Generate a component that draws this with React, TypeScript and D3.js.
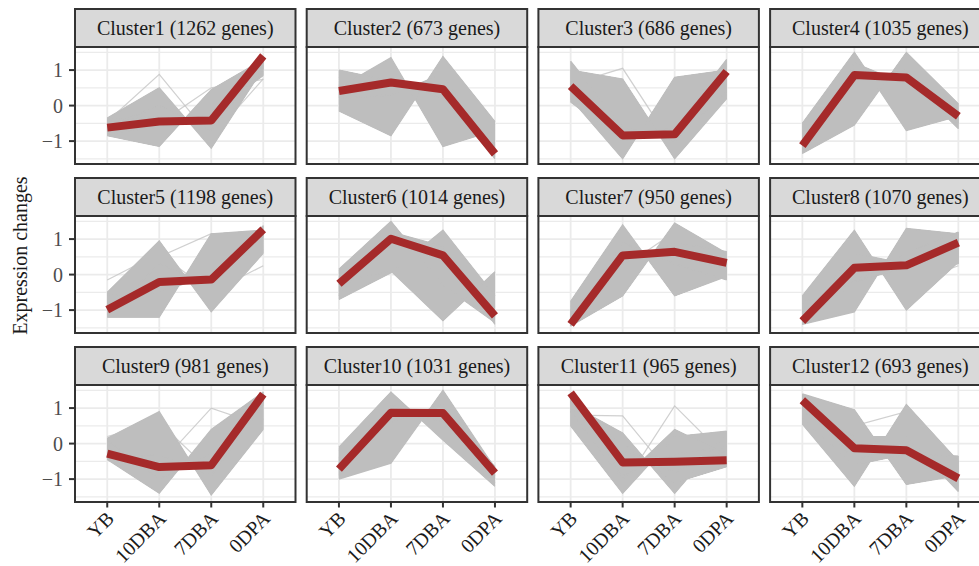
import React from "react";
import * as d3 from "d3";

const stages = ["YB", "10DBA", "7DBA", "0DPA"];
const clusterLabels = ["Cluster1", "Cluster2", "Cluster3", "Cluster4", "Cluster5", "Cluster6", "Cluster7", "Cluster8", "Cluster9", "Cluster10", "Cluster11", "Cluster12"];
const geneCounts = [1262, 673, 686, 1035, 1198, 1014, 950, 1070, 981, 1031, 965, 693];
const yTicks = [-1, 0, 1];
const yTitle = "Expression changes";

// mean profile (red line) per cluster: YB, 10DBA, 7DBA, 0DPA
const meanProfiles = [
  [-0.62, -0.45, -0.42, 1.4],
  [0.41, 0.65, 0.46, -1.36],
  [0.55, -0.84, -0.81, 0.96],
  [-1.13, 0.86, 0.79, -0.3],
  [-0.99, -0.21, -0.14, 1.27],
  [-0.26, 1.01, 0.54, -1.16],
  [-1.4, 0.54, 0.64, 0.33],
  [-1.31, 0.19, 0.26, 0.9],
  [-0.28, -0.66, -0.61, 1.39],
  [-0.72, 0.87, 0.86, -0.83],
  [1.43, -0.53, -0.51, -0.47],
  [1.22, -0.13, -0.19, -0.98],
];

// gene profiles spanning the dense grey bundle of each cluster
const coreProfiles = [
  [[-0.35, 0.5, -1.2, 1.05], [-0.85, -1.15, 0.45, 1.3], [-0.4, -0.3, -0.5, 1.25], [-0.8, -0.6, -0.25, 0.85], [-0.6, 0.0, -0.7, 1.2]],
  [[0.5, 1.35, -1.15, -0.7], [-0.15, -0.85, 1.38, -0.45], [1.0, 0.7, 0.2, -1.45], [0.2, 0.3, 0.9, -1.4], [0.6, 0.6, 0.4, -1.5]],
  [[1.0, 0.75, -1.5, 0.2], [0.2, -1.5, 0.8, 1.0], [1.25, -0.6, -1.0, 0.4], [0.1, -1.0, -0.6, 1.3], [0.6, -0.6, -0.6, 0.6]],
  [[-0.5, 1.5, -0.7, -0.3], [-1.35, -0.55, 1.5, 0.05], [-1.2, 1.0, 0.8, -0.65], [-0.8, 0.7, 1.0, -0.3], [-1.3, 1.2, 0.6, -0.5]],
  [[-0.5, 0.95, -1.05, 0.6], [-1.2, -1.2, 1.15, 1.25], [-1.0, -0.2, -0.1, 1.38], [-0.6, -0.5, 0.0, 1.1], [-1.15, 0.3, -0.3, 1.1]],
  [[0.15, 1.5, -0.3, -1.35], [-0.7, 0.05, 1.25, -0.6], [-0.3, 1.0, 0.55, -1.2], [-0.2, 0.1, -1.3, 0.08], [-0.6, 1.2, 0.8, -1.4]],
  [[-0.75, 1.4, -0.6, -0.05], [-1.45, -0.6, 1.45, 0.6], [-1.3, 0.6, 0.65, 0.1], [-1.0, 0.3, 0.9, 0.65], [-1.45, 0.9, 0.3, -0.15]],
  [[-0.6, 1.25, -1.0, 0.35], [-1.4, -1.05, 1.3, 1.15], [-1.3, 0.2, 0.25, 0.85], [-1.2, 0.6, 0.3, 0.3], [-1.4, -0.2, 0.6, 1.2], [-0.8, -0.2, 0.2, 0.8]],
  [[0.15, 0.9, -1.45, 0.4], [-0.45, -1.4, 0.4, 1.45], [-0.2, -0.6, -0.6, 1.4], [-0.45, -0.3, -0.9, 1.1], [0.1, -1.0, -0.3, 1.2]],
  [[-0.1, 1.45, 0.1, -1.2], [-1.0, -0.55, 1.5, -0.7], [-0.7, 0.9, 0.9, -0.9], [-0.4, 1.1, 0.6, -1.1], [-0.9, 0.6, 1.1, -0.65]],
  [[1.1, 0.3, -1.4, 0.3], [0.5, -1.4, 0.2, 0.35], [1.4, -0.5, -0.5, -0.5], [1.3, -0.9, -0.3, -0.1], [1.2, -0.2, -0.8, -0.2], [0.9, -1.0, 0.4, -0.3], [1.0, 0.0, -1.1, -0.65]],
  [[1.4, 0.95, -1.15, -0.9], [0.55, -1.2, 1.1, -0.5], [1.2, -0.1, -0.2, -1.0], [0.9, 0.2, 0.2, -1.35], [1.3, -0.5, 0.1, -0.9], [0.7, -0.6, -0.3, -0.35]],
];

// fainter outlying gene profiles
const strayProfiles = [
  [[-0.45, 0.88, -0.9, 0.75], [-0.75, -0.5, 0.5, 0.74]],
  [[0.8, 0.1, 0.9, -0.55]],
  [[0.6, 1.05, -1.2, 0.3]],
  [[-0.6, 0.2, 1.1, -0.4]],
  [[-0.15, 0.6, -0.5, 0.25], [-0.7, 0.5, 1.15, 0.7]],
  [[0.1, 0.6, 0.3, -0.9]],
  [[-0.9, 0.2, 1.2, 0.4]],
  [[-0.9, 0.9, -0.3, 0.25]],
  [[-0.4, -0.6, 1.0, 0.5], [0.2, 0.6, -0.8, 0.7]],
  [[-0.2, 0.2, 1.0, -1.0]],
  [[0.8, 0.78, -1.0, -0.5], [0.6, -1.2, 1.06, -0.4]],
  [[1.0, 0.5, 0.9, -1.2]],
];

const W = 979;
const H = 566;
const FONT = "'Liberation Serif', 'Times New Roman', serif";

export default function App() {
  const left0 = 75;
  const colStep = 231.7;
  const panelW = 220.5;
  const top0 = 9;
  const rowStep = 169;
  const stripH = 38;
  const plotH = 117;
  const idx = [0, 1, 2, 3];

  const panels = clusterLabels.map((name, i) => {
    const col = i % 4;
    const row = Math.floor(i / 4);
    const px = left0 + col * colStep;
    const sy = top0 + row * rowStep;
    const py = sy + stripH;
    const pb = py + plotH;
    const x = d3.scalePoint<string>().domain(stages).range([px, px + panelW]).padding(0.62);
    const y = d3.scaleLinear().domain([-1.645, 1.65]).range([pb, py]);
    const line = d3
      .line<number>()
      .x((_, k) => x(stages[k]) as number)
      .y((v) => y(v));
    const core = coreProfiles[i];
    const areas: string[] = [];
    for (let a = 0; a < core.length; a++) {
      for (let b = a + 1; b < core.length; b++) {
        const ar = d3
          .area<number>()
          .x((k) => x(stages[k]) as number)
          .y0((k) => y(core[a][k]))
          .y1((k) => y(core[b][k]));
        areas.push(ar(idx) as string);
      }
    }
    const minorY = [-1.5, -0.5, 0.5, 1.5];
    return (
      <g key={name}>
        {minorY.map((v) => (
          <line key={"mn" + v} x1={px} x2={px + panelW} y1={y(v)} y2={y(v)} stroke="#EBEBEB" strokeWidth={1.4} />
        ))}
        {yTicks.map((v) => (
          <line key={"mj" + v} x1={px} x2={px + panelW} y1={y(v)} y2={y(v)} stroke="#EBEBEB" strokeWidth={1.8} />
        ))}
        {stages.map((s) => (
          <line key={"vx" + s} x1={x(s)} x2={x(s)} y1={py} y2={pb} stroke="#EBEBEB" strokeWidth={1.8} />
        ))}
        {strayProfiles[i].map((p, k) => (
          <path key={"st" + k} d={line(p) as string} fill="none" stroke="#C4C4C4" strokeOpacity={0.8} strokeWidth={1.2} />
        ))}
        {areas.map((d, k) => (
          <path key={"ar" + k} d={d} fill="#BEBEBE" stroke="none" />
        ))}
        {core.map((p, k) => (
          <path key={"cl" + k} d={line(p) as string} fill="none" stroke="#BEBEBE" strokeWidth={1.2} />
        ))}
        <path d={line(meanProfiles[i]) as string} fill="none" stroke="#A52A2A" strokeWidth={8} strokeLinejoin="round" strokeLinecap="butt" />
        <rect x={px} y={py} width={panelW} height={plotH} fill="none" stroke="#333333" strokeWidth={2} />
        <rect x={px} y={sy} width={panelW} height={stripH} fill="#D9D9D9" stroke="#333333" strokeWidth={2} />
        <text x={px + panelW / 2} y={sy + 25.5} textAnchor="middle" fontSize={20} fontFamily={FONT} fill="#1A1A1A">
          {`${name} (${geneCounts[i]} genes)`}
        </text>
        {col === 0 &&
          yTicks.map((v) => (
            <g key={"yt" + v}>
              <line x1={px - 6} x2={px} y1={y(v)} y2={y(v)} stroke="#333333" strokeWidth={2} />
              <text x={px - 12} y={y(v)} dy="0.35em" textAnchor="end" fontSize={20} fontFamily={FONT} fill="#4D4D4D">
                {v < 0 ? "\u2212" + Math.abs(v) : String(v)}
              </text>
            </g>
          ))}
        {row === 2 &&
          stages.map((s) => (
            <g key={"xt" + s}>
              <line x1={x(s)} x2={x(s)} y1={pb} y2={pb + 5.5} stroke="#333333" strokeWidth={2} />
              <text
                transform={`translate(${(x(s) as number) - 2},${pb + 8}) rotate(-45)`}
                dy="0.7em"
                textAnchor="end"
                fontSize={20}
                fontFamily={FONT}
                fill="#1A1A1A"
              >
                {s}
              </text>
            </g>
          ))}
      </g>
    );
  });

  return (
    <svg width={W} height={H} style={{ position: "absolute", left: 0, top: 0, background: "#FFFFFF" }}>
      <rect x={0} y={0} width={W} height={H} fill="#FFFFFF" />
      {panels}
      <text transform={`translate(26.5,255.5) rotate(-90)`} textAnchor="middle" fontSize={20} fontFamily={FONT} fill="#1A1A1A">
        {yTitle}
      </text>
    </svg>
  );
}
